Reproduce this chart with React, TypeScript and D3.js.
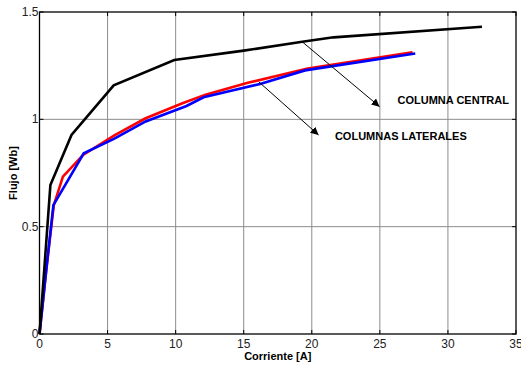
import React, { useRef, useEffect } from "react";
import * as d3 from "d3";

// corriente [A] vs flujo [Wb]
const centralX = [0, 0.35, 0.8, 2.35, 5.45, 9.9, 15, 19.3, 21.6, 32.5];
const centralY = [0, 0.3, 0.694, 0.927, 1.158, 1.276, 1.32, 1.361, 1.382, 1.431];

const redX = [0, 0.5, 1.05, 1.72, 3.2, 5.5, 7.8, 10.5, 12.2, 15.3, 19.7, 27.4];
const redY = [0, 0.3, 0.6, 0.733, 0.834, 0.925, 1.005, 1.075, 1.115, 1.17, 1.237, 1.312];

const blueX = [0, 0.5, 1.02, 3.25, 5.5, 7.8, 10.8, 12.05, 16.2, 19.5, 27.6];
const blueY = [0, 0.3, 0.6, 0.842, 0.91, 0.99, 1.062, 1.103, 1.165, 1.228, 1.307];

const xTicks = [0, 5, 10, 15, 20, 25, 30, 35];
const yTicks = [0, 0.5, 1, 1.5];

const W = 521;
const H = 365;
const margin = { left: 39.5, right: 5, top: 12, bottom: 31 };

const App = () => {
  const svgRef = useRef<SVGSVGElement>(null);

  useEffect(() => {
    const svg = d3.select(svgRef.current);
    svg.selectAll("*").remove();

    const x = d3.scaleLinear().domain([0, 35]).range([margin.left, W - margin.right]);
    const y = d3.scaleLinear().domain([0, 1.5]).range([H - margin.bottom, margin.top]);
    const x0 = x(0), x1 = x(35), y0 = y(0), y1 = y(1.5);

    svg.append("rect").attr("width", W).attr("height", H).attr("fill", "#fff");

    // grid
    const grid = svg.append("g").attr("stroke", "#8c8c8c").attr("stroke-width", 1);
    xTicks.slice(1, -1).forEach((t) => {
      grid.append("line").attr("x1", x(t)).attr("x2", x(t)).attr("y1", y0).attr("y2", y1);
    });
    yTicks.slice(1, -1).forEach((t) => {
      grid.append("line").attr("x1", x0).attr("x2", x1).attr("y1", y(t)).attr("y2", y(t));
    });

    // ticks inside box
    const ticks = svg.append("g").attr("stroke", "#000").attr("stroke-width", 1);
    xTicks.forEach((t) => {
      ticks.append("line").attr("x1", x(t)).attr("x2", x(t)).attr("y1", y0).attr("y2", y0 - 4);
      ticks.append("line").attr("x1", x(t)).attr("x2", x(t)).attr("y1", y1).attr("y2", y1 + 4);
    });
    yTicks.forEach((t) => {
      ticks.append("line").attr("x1", x0).attr("x2", x0 + 4).attr("y1", y(t)).attr("y2", y(t));
      ticks.append("line").attr("x1", x1).attr("x2", x1 - 4).attr("y1", y(t)).attr("y2", y(t));
    });

    const line = d3
      .line<[number, number]>()
      .x((d) => x(d[0]))
      .y((d) => y(d[1]));

    const series = [
      { xs: redX, ys: redY, color: "#ff0000" },
      { xs: blueX, ys: blueY, color: "#0000ff" },
      { xs: centralX, ys: centralY, color: "#000000" },
    ];
    series.forEach((s) => {
      svg
        .append("path")
        .datum(s.xs.map((v, i) => [v, s.ys[i]] as [number, number]))
        .attr("d", line)
        .attr("fill", "none")
        .attr("stroke", s.color)
        .attr("stroke-width", 2.6)
        .attr("stroke-linejoin", "miter");
    });

    // box
    svg
      .append("rect")
      .attr("x", x0)
      .attr("y", y1)
      .attr("width", x1 - x0)
      .attr("height", y0 - y1)
      .attr("fill", "none")
      .attr("stroke", "#000")
      .attr("stroke-width", 1.3);

    // tick labels
    const font = "Liberation Sans, Arial, sans-serif";
    xTicks.forEach((t) => {
      svg
        .append("text")
        .attr("x", x(t))
        .attr("y", y0 + 14)
        .attr("text-anchor", "middle")
        .attr("font-family", font)
        .attr("font-size", 12)
        .attr("fill", "#222")
        .text(t);
    });
    yTicks.forEach((t) => {
      svg
        .append("text")
        .attr("x", x0 - 1)
        .attr("y", y(t) + 4)
        .attr("text-anchor", "end")
        .attr("font-family", font)
        .attr("font-size", 12)
        .attr("fill", "#222")
        .text(t);
    });

    // axis titles
    svg
      .append("text")
      .attr("x", (x0 + x1) / 2)
      .attr("y", H - 5)
      .attr("text-anchor", "middle")
      .attr("font-family", font)
      .attr("font-weight", "bold")
      .attr("font-size", 11)
      .text("Corriente [A]");
    svg
      .append("text")
      .attr("transform", `translate(17,${(y0 + y1) / 2}) rotate(-90)`)
      .attr("text-anchor", "middle")
      .attr("font-family", font)
      .attr("font-weight", "bold")
      .attr("font-size", 11)
      .text("Flujo [Wb]");

    // annotations
    svg
      .append("defs")
      .append("marker")
      .attr("id", "arr")
      .attr("viewBox", "0 0 10 10")
      .attr("refX", 10)
      .attr("refY", 5)
      .attr("markerWidth", 8)
      .attr("markerHeight", 8)
      .attr("markerUnits", "userSpaceOnUse")
      .attr("orient", "auto")
      .append("path")
      .attr("d", "M0,0 L10,5 L0,10 Z")
      .attr("fill", "#000");

    const notes = [
      { from: [19.3, 1.361], to: [24.98, 1.059], label: "COLUMNA CENTRAL", lx: 26.3, ly: 1.09 },
      { from: [16.1, 1.175], to: [20.5, 0.927], label: "COLUMNAS LATERALES", lx: 21.7, ly: 0.923 },
    ];
    notes.forEach((n) => {
      svg
        .append("line")
        .attr("x1", x(n.from[0]))
        .attr("y1", y(n.from[1]))
        .attr("x2", x(n.to[0]))
        .attr("y2", y(n.to[1]))
        .attr("stroke", "#000")
        .attr("stroke-width", 1)
        .attr("marker-end", "url(#arr)");
      svg
        .append("text")
        .attr("x", x(n.lx))
        .attr("y", y(n.ly) + 4)
        .attr("font-family", font)
        .attr("font-weight", "bold")
        .attr("font-size", 11)
        .text(n.label);
    });
  }, []);

  return (
    <svg
      ref={svgRef}
      width={W}
      height={H}
      style={{ position: "absolute", left: 0, top: 0 }}
    />
  );
};

export default App;
